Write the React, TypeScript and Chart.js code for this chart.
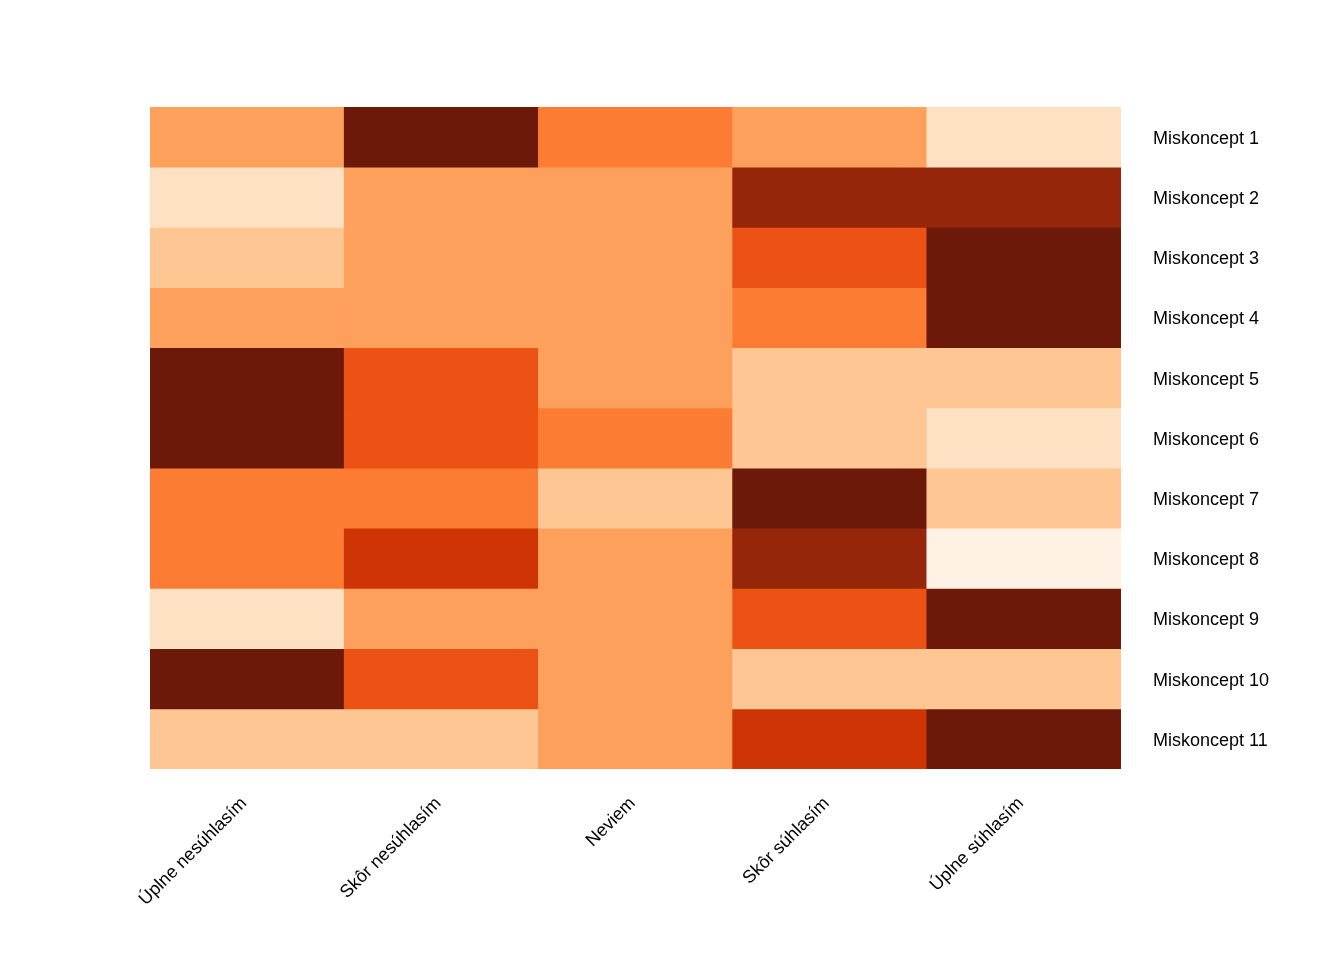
import React, { useEffect, useRef } from "react";
import { Chart, registerables } from "chart.js";

Chart.register(...registerables);

const columns = ["Úplne nesúhlasím", "Skôr nesúhlasím", "Neviem", "Skôr súhlasím", "Úplne súhlasím"];
const rows = [
  "Miskoncept 1", "Miskoncept 2", "Miskoncept 3", "Miskoncept 4", "Miskoncept 5", "Miskoncept 6",
  "Miskoncept 7", "Miskoncept 8", "Miskoncept 9", "Miskoncept 10", "Miskoncept 11",
];
// intensity level per cell (0 = lightest, 8 = darkest)
const levels = [
  [3, 8, 4, 3, 1],
  [1, 3, 3, 7, 7],
  [2, 3, 3, 5, 8],
  [3, 3, 3, 4, 8],
  [8, 5, 3, 2, 2],
  [8, 5, 4, 2, 1],
  [4, 4, 2, 8, 2],
  [4, 6, 3, 7, 0],
  [1, 3, 3, 5, 8],
  [8, 5, 3, 2, 2],
  [2, 2, 3, 6, 8],
];
const palette = ["#FFF2E4", "#FEE0C3", "#FDC692", "#FDA05C", "#FD7C33", "#EC5213", "#CF3404", "#952609", "#6C190A"];

export default function App() {
  const ref = useRef<HTMLCanvasElement>(null);
  useEffect(() => {
    document.body.style.margin = "0";
    const font = { family: "Liberation Sans, Arial, sans-serif", size: 18 };
    const chart = new Chart(ref.current!, {
      type: "bar",
      data: {
        labels: columns,
        datasets: rows.map((r, i) => ({
          label: r,
          data: columns.map(() => 1),
          backgroundColor: levels[i].map((l) => palette[l]),
          borderWidth: 0,
          barPercentage: 1,
          categoryPercentage: 1,
        })),
      },
      options: {
        animation: false,
        responsive: false,
        maintainAspectRatio: false,
        layout: { padding: { left: 150, top: 107, right: 0, bottom: 0 } },
        plugins: { legend: { display: false }, tooltip: { enabled: false } },
        scales: {
          x: {
            stacked: true,
            grid: { display: false, drawTicks: false },
            border: { display: false },
            ticks: { font, color: "#000", maxRotation: 45, minRotation: 45, padding: 24, labelOffset: -3, autoSkip: false },
            afterFit: (s: any) => { s.height = 960 - 769; },
          },
          y: {
            stacked: true,
            reverse: true,
            position: "right",
            min: 0,
            max: rows.length,
            grid: { display: false, drawTicks: false },
            border: { display: false },
            afterBuildTicks: (s: any) => { s.ticks = rows.map((_, i) => ({ value: i + 0.53 })); },
            ticks: {
              font, color: "#000", padding: 32, autoSkip: false,
              callback: (v: any) => rows[Math.floor(Number(v))],
            },
            afterFit: (s: any) => { s.width = 1344 - 1121; },
          },
        },
      },
    });
    return () => chart.destroy();
  }, []);
  return (
    <div style={{ width: 1344, height: 960, background: "#fff" }}>
      <canvas ref={ref} width={1344} height={960} style={{ display: "block" }} />
    </div>
  );
}
